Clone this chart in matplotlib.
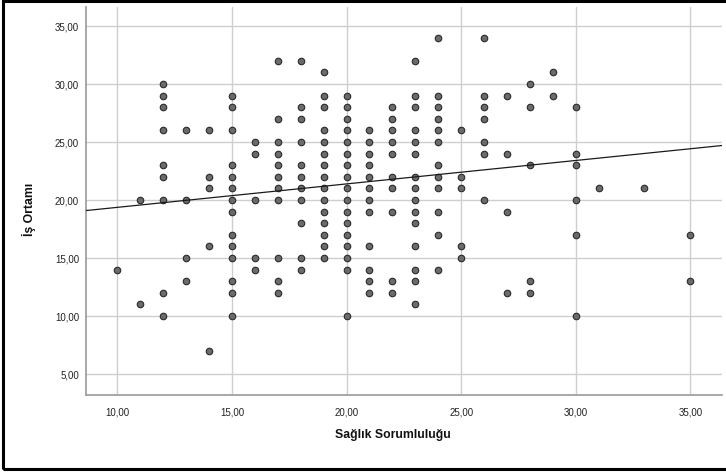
import matplotlib
matplotlib.use("Agg")
import matplotlib.pyplot as plt
from matplotlib.patches import Rectangle
from matplotlib.ticker import FuncFormatter
import numpy as np

# Data: Sağlık Sorumluluğu (x) -> list of İş Ortamı (y) values
columns = {
    10: [14],
    11: [20, 11],
    12: [30, 29, 28, 26, 23, 22, 20, 12, 10],
    13: [26, 20, 15, 13],
    14: [26, 22, 21, 16, 7],
    15: [29, 28, 26, 23, 22, 21, 20, 19, 17, 16, 15, 13, 12, 10],
    16: [25, 24, 20, 15, 14],
    17: [32, 27, 25, 24, 23, 22, 21, 20, 15, 13, 12],
    18: [32, 28, 27, 25, 23, 22, 21, 20, 18, 15, 14],
    19: [31, 29, 28, 26, 25, 24, 23, 22, 21, 20, 19, 18, 17, 16, 15],
    20: [29, 28, 27, 26, 25, 24, 23, 22, 21, 20, 19, 18, 17, 16, 15, 14, 10],
    21: [26, 25, 24, 23, 22, 21, 20, 19, 16, 14, 13, 12],
    22: [28, 27, 26, 25, 24, 22, 21, 19, 13, 12],
    23: [32, 29, 28, 26, 25, 24, 22, 21, 20, 19, 18, 16, 14, 13, 11],
    24: [34, 29, 28, 27, 26, 25, 23, 22, 21, 19, 17, 14],
    25: [26, 22, 21, 16, 15],
    26: [34, 29, 28, 27, 25, 24, 20],
    27: [29, 24, 19, 12],
    28: [30, 28, 23, 13, 12],
    29: [31, 29],
    30: [28, 24, 23, 20, 17, 10],
    31: [21],
    33: [21],
    35: [17, 13],
}
saglik = [x for x, ys in columns.items() for _ in ys]
is_ortami = [y for ys in columns.values() for y in ys]

# Fit line
fit_intercept = 17.35
fit_slope = 0.202

x_ticks = [10, 15, 20, 25, 30, 35]
y_ticks = [5, 10, 15, 20, 25, 30, 35]
x_label = "Sağlık Sorumluluğu"
y_label = "İş Ortamı"

plt.rcParams['font.family'] = ['Liberation Sans', 'DejaVu Sans']

fig = plt.figure(figsize=(7.26, 4.75), dpi=100)
ax = fig.add_axes([86/726, 1 - 394.7/475, (721.7 - 86)/726, (394.7 - 7)/475])

xlim = (8.63, 36.37)
ylim = (3.22, 36.64)
ax.set_xlim(*xlim)
ax.set_ylim(*ylim)

ax.set_xticks(x_ticks)
ax.set_yticks(y_ticks)
fmt = FuncFormatter(lambda v, p: f"{v:.2f}".replace(".", ","))
ax.xaxis.set_major_formatter(fmt)
ax.yaxis.set_major_formatter(fmt)
ax.tick_params(axis='both', length=0, labelsize=7, colors='#222222')
ax.tick_params(axis='x', pad=9)
ax.tick_params(axis='y', pad=5)

ax.grid(True, color='#cfcfcf', linewidth=1.0)
ax.set_axisbelow(True)
for s in ['top', 'right']:
    ax.spines[s].set_visible(False)
for s in ['left', 'bottom']:
    ax.spines[s].set_color('#9a9a9a')
    ax.spines[s].set_linewidth(1.2)

ax.scatter(saglik, is_ortami, s=22, facecolor='#6b6b6b', edgecolor='#2a2a2a',
           linewidths=0.8, zorder=3)

xs = np.array(xlim)
ax.plot(xs, fit_intercept + fit_slope * xs, color='#1a1a1a', linewidth=0.9, zorder=4)

ax.set_xlabel(x_label, fontsize=8.8, fontweight='bold', color='#111111')
ax.set_ylabel(y_label, fontsize=8.8, fontweight='bold', color='#111111')
ax.xaxis.set_label_coords(0.483, -0.088)
ax.yaxis.set_label_coords(-0.078, 0.477)

fig.add_artist(Rectangle((3/726, 6/475), 2.0, (475 - 6.5)/475, transform=fig.transFigure,
                         fill=False, edgecolor='black', linewidth=2.2, clip_on=False))

fig.savefig("out.png", dpi=100)
